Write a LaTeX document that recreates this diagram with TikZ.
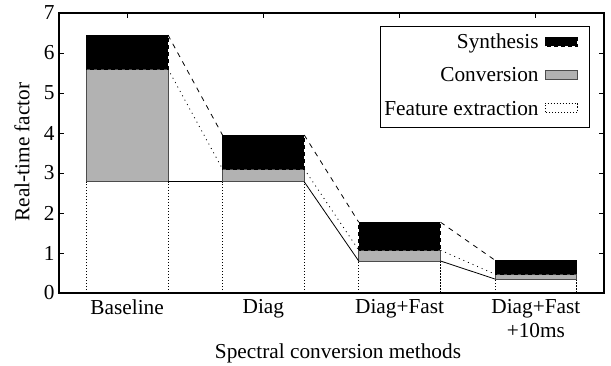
\documentclass[tikz,border=0pt]{standalone}
\usepackage{fontspec}
\setmainfont{Liberation Serif}
\usetikzlibrary{positioning}

\tikzset{
	lab/.style={inner sep=0pt, font=\fontsize{21.3}{24}\selectfont},
	featbox/.style={draw, dash pattern=on 1.5pt off 1.5pt, fill=white},
	convbox/.style={draw=black!70, fill=black!30},
	synthbox/.style={draw, dash pattern=on 4pt off 3pt, fill=black},
}

\begin{document}
\begin{tikzpicture}[x=1pt, y=1pt, line width=0.8pt]
	\useasboundingbox (0,0) rectangle (611,365);

	\begin{scope}[shift={(127.1,72)}, x=136.25pt, y=40pt]
	\foreach \i/\f/\c/\s in {0/2.78/5.6/6.45, 1/2.78/3.1/3.95, 2/0.8/1.07/1.77, 3/0.35/0.47/0.82} {
		\draw[featbox] (\i-0.3,0) rectangle (\i+0.3,\f);
		\draw[convbox] (\i-0.3,\f) rectangle (\i+0.3,\c);
		\draw[synthbox] (\i-0.3,\c) rectangle (\i+0.3,\s);
		\coordinate (fL\i) at (\i-0.3,\f);
		\coordinate (fR\i) at (\i+0.3,\f);
		\coordinate (cL\i) at (\i-0.3,\c);
		\coordinate (cR\i) at (\i+0.3,\c);
		\coordinate (sL\i) at (\i-0.3,\s);
		\coordinate (sR\i) at (\i+0.3,\s);
	}

	\foreach \i/\j in {0/1, 1/2, 2/3} {
		\draw (fR\i) -- (fL\j);
		\draw[dash pattern=on 1pt off 4pt] (cR\i) -- (cL\j);
		\draw[dash pattern=on 5pt off 5pt] (sR\i) -- (sL\j);
	}

	\foreach \v in {0,...,7} {
		\draw (-0.5,\v) -- ++(5pt,0);
		\draw (3.5,\v) -- ++(-5pt,0);
		\node[lab, left=4pt] (ytick\v) at (-0.5,\v) {\v};
	}
	\foreach \i in {0,...,3}
		\draw (\i,7) -- ++(0,-5pt);

	\draw[line width=1.2pt] (-0.5,0) rectangle (3.5,7);

	\node[lab, below=6pt] (xBase) at (0,0) {Baseline};
	\node[lab, below=6pt] (xDiag) at (1,0) {Diag};
	\node[lab, below=6pt] (xFast) at (2,0) {Diag+Fast};
	\node[lab, below=6pt, align=center] (xTen) at (3,0) {Diag+Fast\\+10ms};
	\end{scope}

	\node[lab, anchor=base] (xlabel) at (338,7) {Spectral conversion methods};
	\node[lab, rotate=90] (ylabel) at (22,213) {Real-time factor};

	% legend
	\draw[fill=white] (380,339) rectangle (589,238);
	\node[lab, anchor=base east] (lSynth) at (539,316) {Synthesis};
	\node[lab, anchor=base east] (lConv) at (539,283) {Conversion};
	\node[lab, anchor=base east] (lFeat) at (539,250) {Feature extraction};
	\draw[synthbox] ([shift={(6,2.5)}]lSynth.base east) rectangle ++(32,9.5);
	\draw[convbox] ([shift={(6,2.5)}]lConv.base east) rectangle ++(32,9.5);
	\draw[featbox] ([shift={(6,2.5)}]lFeat.base east) rectangle ++(32,9.5);
\end{tikzpicture}
\end{document}
